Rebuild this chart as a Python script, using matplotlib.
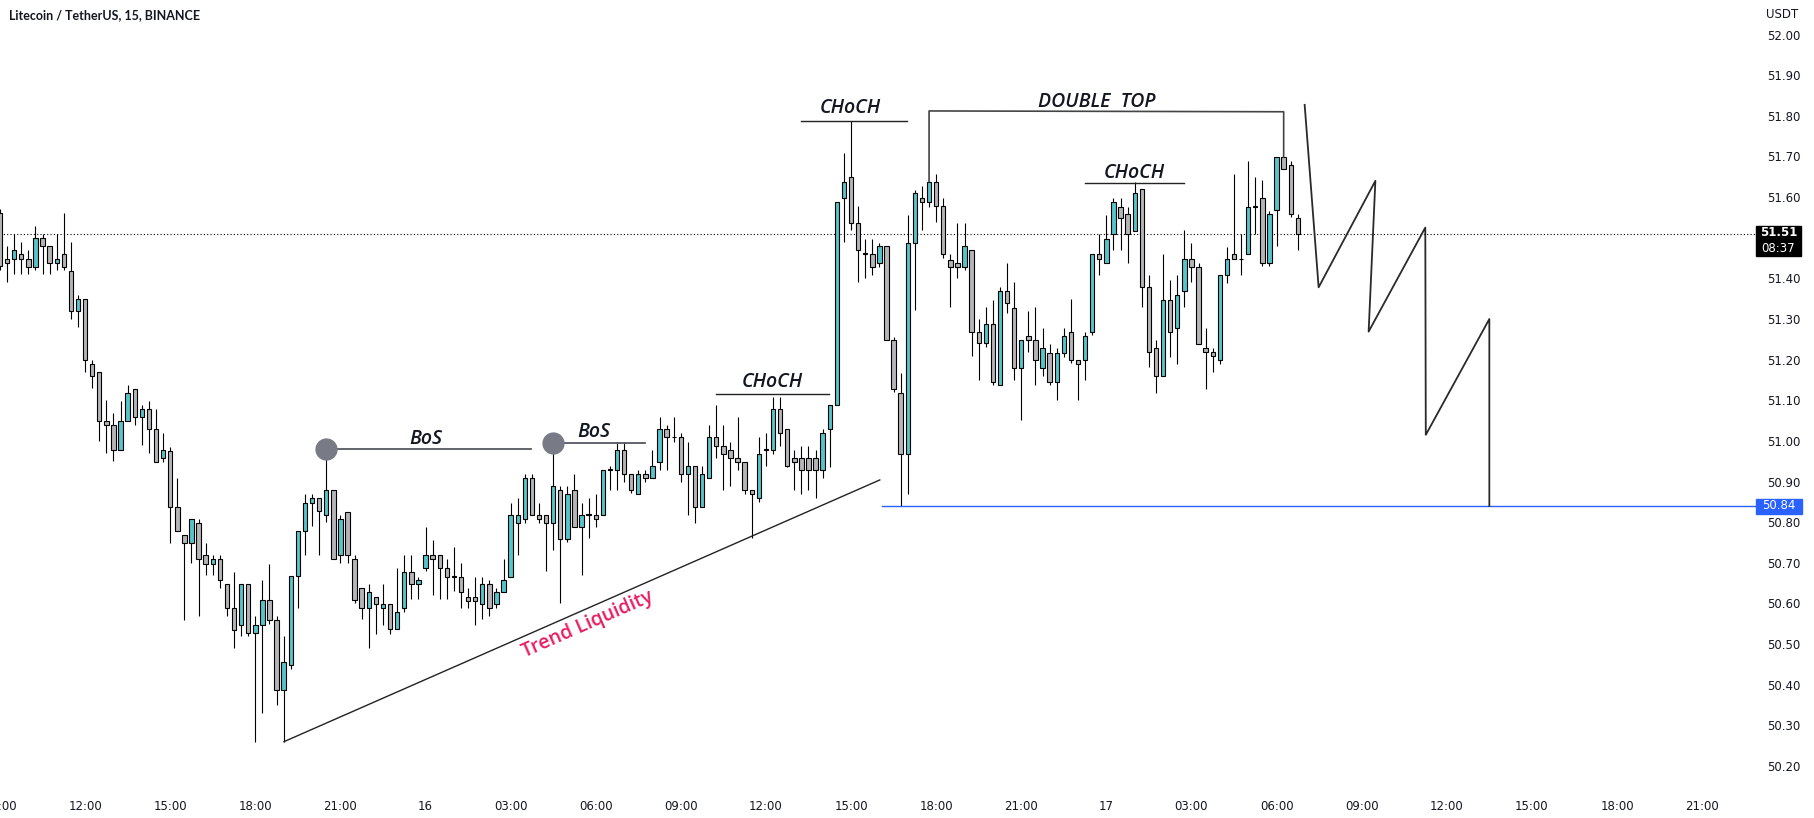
import numpy as np
import matplotlib
matplotlib.use("Agg")
import matplotlib.pyplot as plt
import matplotlib.transforms as mtransforms
from matplotlib.patches import Rectangle

# LTC/USDT 15m candles (index 0 = 09:00 on the 15th)
opens = [51.56, 51.447, 51.447, 51.46, 51.447, 51.427, 51.499, 51.479, 51.437, 51.46,
         51.419, 51.319, 51.349, 51.189, 51.169, 51.049, 51.039, 50.977, 51.049, 51.128,
         51.058, 51.078, 51.029, 50.958, 50.976, 50.837, 50.768, 50.748, 50.798, 50.719,
         50.697, 50.709, 50.648, 50.589, 50.546, 50.648, 50.527, 50.546, 50.608, 50.56,
         50.387, 50.448, 50.668, 50.778, 50.847, 50.859, 50.818, 50.88, 50.719, 50.826,
         50.709, 50.638, 50.589, 50.617, 50.589, 50.598, 50.537, 50.589, 50.677, 50.647,
         50.687, 50.72, 50.72, 50.687, 50.667, 50.666, 50.617, 50.617, 50.598, 50.647,
         50.598, 50.628, 50.666, 50.798, 50.807, 50.908, 50.818, 50.818, 50.798, 50.88,
         50.758, 50.88, 50.789, 50.818, 50.818, 50.818, 50.929, 50.929, 50.978, 50.919,
         50.869, 50.919, 50.908, 50.948, 51.029, 51.009, 51.009, 50.919, 50.939, 50.837,
         50.908, 51.009, 50.988, 50.978, 50.958, 50.948, 50.879, 50.859, 50.978, 50.978,
         51.079, 51.029, 50.958, 50.958, 50.958, 50.958, 50.929, 51.029, 51.088, 51.597,
         51.649, 51.537, 51.46, 51.46, 51.439, 51.48, 51.248, 51.117, 50.968, 51.488,
         51.597, 51.587, 51.638, 51.578, 51.445, 51.439, 51.429, 51.47, 51.269, 51.24,
         51.287, 51.138, 51.37, 51.328, 51.179, 51.258, 51.248, 51.179, 51.217, 51.146,
         51.217, 51.267, 51.199, 51.199, 51.267, 51.46, 51.439, 51.509, 51.576, 51.558,
         51.517, 51.619, 51.378, 51.228, 51.16, 51.348, 51.277, 51.369, 51.447, 51.427,
         51.228, 51.218, 51.199, 51.408, 51.46, 51.447, 51.46, 51.576, 51.597, 51.437,
         51.568, 51.698, 51.678, 51.548]
highs = [51.57, 51.48, 51.51, 51.49, 51.47, 51.53, 51.509, 51.48, 51.509, 51.56,
         51.49, 51.36, 51.35, 51.20, 51.17, 51.10, 51.068, 51.099, 51.138, 51.128,
         51.089, 51.099, 51.078, 51.019, 50.986, 50.908, 50.768, 50.807, 50.807, 50.748,
         50.719, 50.719, 50.648, 50.677, 50.648, 50.648, 50.57, 50.657, 50.698, 50.57,
         50.519, 50.668, 50.778, 50.87, 50.87, 50.859, 50.978, 50.88, 50.817, 50.826,
         50.719, 50.638, 50.648, 50.617, 50.648, 50.598, 50.687, 50.72, 50.72, 50.666,
         50.789, 50.757, 50.72, 50.709, 50.74, 50.699, 50.638, 50.666, 50.666, 50.658,
         50.638, 50.709, 50.847, 50.859, 50.919, 50.919, 50.847, 50.818, 50.994, 50.89,
         50.89, 50.919, 50.847, 50.859, 50.87, 50.929, 50.939, 50.998, 50.998, 50.919,
         50.929, 50.929, 50.978, 51.058, 51.039, 51.058, 51.019, 50.998, 50.939, 50.939,
         51.039, 51.089, 51.039, 50.998, 51.058, 50.948, 50.879, 51.009, 51.019, 51.109,
         51.109, 51.029, 50.978, 50.988, 50.988, 50.978, 51.029, 51.089, 51.587, 51.708,
         51.788, 51.578, 51.498, 51.498, 51.486, 51.48, 51.256, 51.168, 51.556, 51.617,
         51.627, 51.638, 51.658, 51.599, 51.46, 51.537, 51.537, 51.47, 51.299, 51.33,
         51.348, 51.38, 51.439, 51.39, 51.248, 51.32, 51.33, 51.277, 51.238, 51.228,
         51.277, 51.349, 51.199, 51.267, 51.46, 51.509, 51.556, 51.597, 51.597, 51.576,
         51.638, 51.619, 51.408, 51.248, 51.46, 51.397, 51.408, 51.519, 51.488, 51.439,
         51.277, 51.228, 51.408, 51.478, 51.658, 51.509, 51.69, 51.649, 51.642, 51.567,
         51.698, 51.698, 51.69, 51.558]
lows = [51.42, 51.39, 51.41, 51.41, 51.41, 51.42, 51.41, 51.41, 51.42, 51.42,
        51.30, 51.28, 51.17, 51.13, 51.00, 50.97, 50.95, 50.977, 51.049, 51.039,
        50.99, 50.97, 50.948, 50.949, 50.75, 50.778, 50.56, 50.70, 50.57, 50.669,
        50.669, 50.639, 50.57, 50.49, 50.519, 50.519, 50.26, 50.33, 50.55, 50.35,
        50.26, 50.44, 50.59, 50.72, 50.79, 50.719, 50.80, 50.709, 50.70, 50.70,
        50.60, 50.561, 50.49, 50.526, 50.548, 50.526, 50.537, 50.58, 50.61, 50.61,
        50.679, 50.62, 50.61, 50.61, 50.63, 50.59, 50.59, 50.547, 50.561, 50.57,
        50.59, 50.628, 50.666, 50.72, 50.798, 50.818, 50.798, 50.679, 50.732, 50.60,
        50.752, 50.789, 50.67, 50.76, 50.789, 50.818, 50.88, 50.88, 50.90, 50.871,
        50.869, 50.90, 50.908, 50.929, 50.929, 50.998, 50.90, 50.818, 50.799, 50.837,
        50.908, 50.959, 50.879, 50.889, 50.929, 50.869, 50.761, 50.849, 50.939, 50.968,
        50.988, 50.935, 50.879, 50.869, 50.879, 50.859, 50.909, 50.937, 51.088, 51.49,
        51.519, 51.39, 51.40, 51.408, 51.429, 51.248, 51.121, 50.84, 50.87, 51.322,
        51.519, 51.576, 51.539, 51.449, 51.33, 51.40, 51.42, 51.21, 51.15, 51.232,
        51.138, 51.138, 51.314, 51.15, 51.052, 51.22, 51.138, 51.16, 51.138, 51.10,
        51.207, 51.191, 51.10, 51.15, 51.26, 51.408, 51.439, 51.47, 51.47, 51.439,
        51.517, 51.33, 51.181, 51.119, 51.16, 51.207, 51.19, 51.33, 51.39, 51.238,
        51.129, 51.17, 51.19, 51.388, 51.447, 51.408, 51.46, 51.509, 51.43, 51.43,
        51.48, 51.668, 51.55, 51.47]
closes = [51.43, 51.437, 51.47, 51.447, 51.427, 51.499, 51.479, 51.437, 51.447, 51.427,
          51.319, 51.349, 51.199, 51.159, 51.049, 51.039, 50.977, 51.049, 51.118, 51.058,
          51.078, 51.029, 50.949, 50.977, 50.837, 50.778, 50.748, 50.807, 50.709, 50.697,
          50.709, 50.657, 50.589, 50.536, 50.648, 50.527, 50.546, 50.608, 50.56, 50.387,
          50.457, 50.668, 50.778, 50.847, 50.859, 50.827, 50.88, 50.709, 50.807, 50.719,
          50.609, 50.589, 50.628, 50.598, 50.598, 50.537, 50.579, 50.677, 50.647, 50.658,
          50.72, 50.709, 50.687, 50.666, 50.665, 50.628, 50.607, 50.607, 50.647, 50.589,
          50.628, 50.658, 50.818, 50.818, 50.908, 50.818, 50.807, 50.798, 50.888, 50.758,
          50.87, 50.789, 50.818, 50.818, 50.807, 50.929, 50.929, 50.978, 50.919, 50.879,
          50.919, 50.908, 50.939, 51.029, 51.009, 51.009, 50.919, 50.939, 50.837, 50.919,
          51.009, 50.988, 50.968, 50.958, 50.948, 50.879, 50.869, 50.968, 50.978, 51.079,
          51.019, 50.939, 50.948, 50.929, 50.929, 50.929, 51.019, 51.089, 51.587, 51.638,
          51.537, 51.47, 51.46, 51.429, 51.48, 51.248, 51.127, 50.968, 51.488, 51.609,
          51.587, 51.638, 51.578, 51.46, 51.429, 51.429, 51.48, 51.269, 51.24, 51.287,
          51.146, 51.37, 51.34, 51.179, 51.248, 51.248, 51.199, 51.228, 51.146, 51.217,
          51.258, 51.199, 51.189, 51.258, 51.46, 51.447, 51.498, 51.587, 51.548, 51.509,
          51.609, 51.378, 51.218, 51.16, 51.348, 51.267, 51.358, 51.447, 51.427, 51.238,
          51.218, 51.209, 51.408, 51.447, 51.447, 51.447, 51.576, 51.576, 51.437, 51.558,
          51.698, 51.668, 51.558, 51.51]

time_labels = ['09:00', '12:00', '15:00', '18:00', '21:00', '16', '03:00', '06:00',
               '09:00', '12:00', '15:00', '18:00', '21:00', '17', '03:00', '06:00',
               '09:00', '12:00', '15:00', '18:00', '21:00']
candles_per_label = 12
price_ticks = np.round(np.arange(50.2, 52.001, 0.1), 2)

last_price = 51.51
countdown = '08:37'
target_price = 50.84
target_start = 124.4

# drawings (candle index, price)
bos_points = [(46, 50.98, 74.9), (78, 50.994, 91.0)]
bos_text = [(60.0, 51.005), (83.7, 51.023)]
choch_lines = [(101.0, 116.9, 51.115), (113.0, 127.9, 51.787), (153.0, 166.9, 51.634)]
choch_text = [(108.9, 51.146), (119.9, 51.819), (160.0, 51.66)]
dtop_x = [131.0, 131.0, 181.0, 181.0]
dtop_y = [51.638, 51.812, 51.81, 51.698]
dtop_text = (154.7, 51.835)
zig_x = [183.96, 185.93, 193.93, 192.98, 200.97, 201.04, 210.0, 210.0]
zig_y = [51.827, 51.378, 51.64, 51.269, 51.525, 51.015, 51.30, 50.84]
trend_x = [40.04, 124.05]
trend_y = [50.26, 50.904]
trend_text = (82.9, 50.548)

W, H = 1814, 818
fig = plt.figure(figsize=(W / 100, H / 100), dpi=100)
ax = fig.add_axes([0, 30 / H, 1756 / W, 788 / H])
ax.set_xlim(0.1, 247.6)
ax.set_ylim(50.146, 52.085)
for s in ax.spines.values():
    s.set_visible(False)

TEAL = '#55c4cb'
GREY = '#b5b5b9'
INK = '#131722'

o = np.array(opens); h = np.array(highs); l = np.array(lows); c = np.array(closes)
x = np.arange(len(o))
up = c > o
ax.vlines(x, l, h, color='black', lw=0.8, zorder=2)
body_low = np.minimum(o, c)
body_h = np.maximum(np.abs(c - o), 0.0015)
ax.bar(x, body_h, bottom=body_low, width=0.62, color=np.where(up, TEAL, GREY),
       edgecolor='black', linewidth=0.8, zorder=3)

# current price line
ax.axhline(last_price, color='black', ls=(0, (1, 2)), lw=0.8, zorder=1)

# target level
ax.plot([target_start, 247.6], [target_price, target_price], color='#2962ff', lw=1.0, zorder=4)

label_font = dict(fontsize=14, style='italic', fontweight='semibold', family='Open Sans',
                  color=INK, zorder=6, ha='center', va='center')

# BoS
for (bx, by, bend), (tx, ty) in zip(bos_points, bos_text):
    ax.plot([bx, bend], [by, by], color='#55585f', lw=1.3, zorder=4)
    ax.plot(bx, by, 'o', ms=15, color='#787b86', zorder=5)
    ax.text(tx, ty, 'BoS', **label_font)

for (x0, x1, yy), (tx, ty) in zip(choch_lines, choch_text):
    ax.plot([x0, x1], [yy, yy], color='#222222', lw=1.0, zorder=4)
    ax.text(tx, ty, 'CHoCH', **label_font)

ax.plot(dtop_x, dtop_y, color='#444444', lw=1.2, zorder=4)
ax.text(*dtop_text, 'DOUBLE  TOP', **label_font)

ax.plot(zig_x, zig_y, color='#2a2a2a', lw=1.3, zorder=4)

ax.plot(trend_x, trend_y, color='#222222', lw=1.0, zorder=4)
ax.text(*trend_text, 'Trend Liquidity', ha='center', va='center', rotation=23.7,
        rotation_mode='anchor', fontsize=14, fontweight='semibold', family='Open Sans',
        color='#e91e63', zorder=6)

# axes ticks (51.50 sits under the last-price box, so its label is left blank)
ax.set_xticks(np.arange(len(time_labels)) * candles_per_label)
ax.set_xticklabels(time_labels)
ax.yaxis.tick_right()
ax.set_yticks(price_ticks)
ax.set_yticklabels(['' if abs(v - last_price) < 0.05 else f'{v:.2f}' for v in price_ticks])
ax.tick_params(axis='both', length=0, labelsize=8.5, labelcolor=INK)
ax.tick_params(axis='x', pad=9)
ax.tick_params(axis='y', pad=8)

# price labels on scale
trans = mtransforms.blended_transform_factory(ax.transAxes, ax.transData)
ax.add_patch(Rectangle((1.0, 51.456), 45 / 1756, 0.074, transform=trans, color='black',
                       clip_on=False, zorder=10))
ax.text(1.0 + 22.5 / 1756, 51.513, f'{last_price:.2f}', transform=trans, ha='center', va='center',
        color='white', fontsize=8.5, fontweight='bold', clip_on=False, zorder=11)
ax.text(1.0 + 22.5 / 1756, 51.474, countdown, transform=trans, ha='center', va='center',
        color='white', fontsize=8.5, clip_on=False, zorder=11)
ax.add_patch(Rectangle((1.0, 50.821), 46 / 1756, 0.037, transform=trans, color='#2962ff',
                       clip_on=False, zorder=10))
ax.text(1.0 + 23 / 1756, 50.84, f'{target_price:.2f}', transform=trans, ha='center', va='center',
        color='white', fontsize=8.5, clip_on=False, zorder=11)

fig.text(1782 / W, 1 - 14 / H, 'USDT', ha='center', va='center', fontsize=8.5, color=INK)
fig.text(9 / W, 1 - 15 / H, 'Litecoin / TetherUS, 15, BINANCE', ha='left', va='center',
         fontsize=9, fontweight='bold', family='Lato', color=INK)

fig.savefig('out.png', dpi=100, facecolor='white')
